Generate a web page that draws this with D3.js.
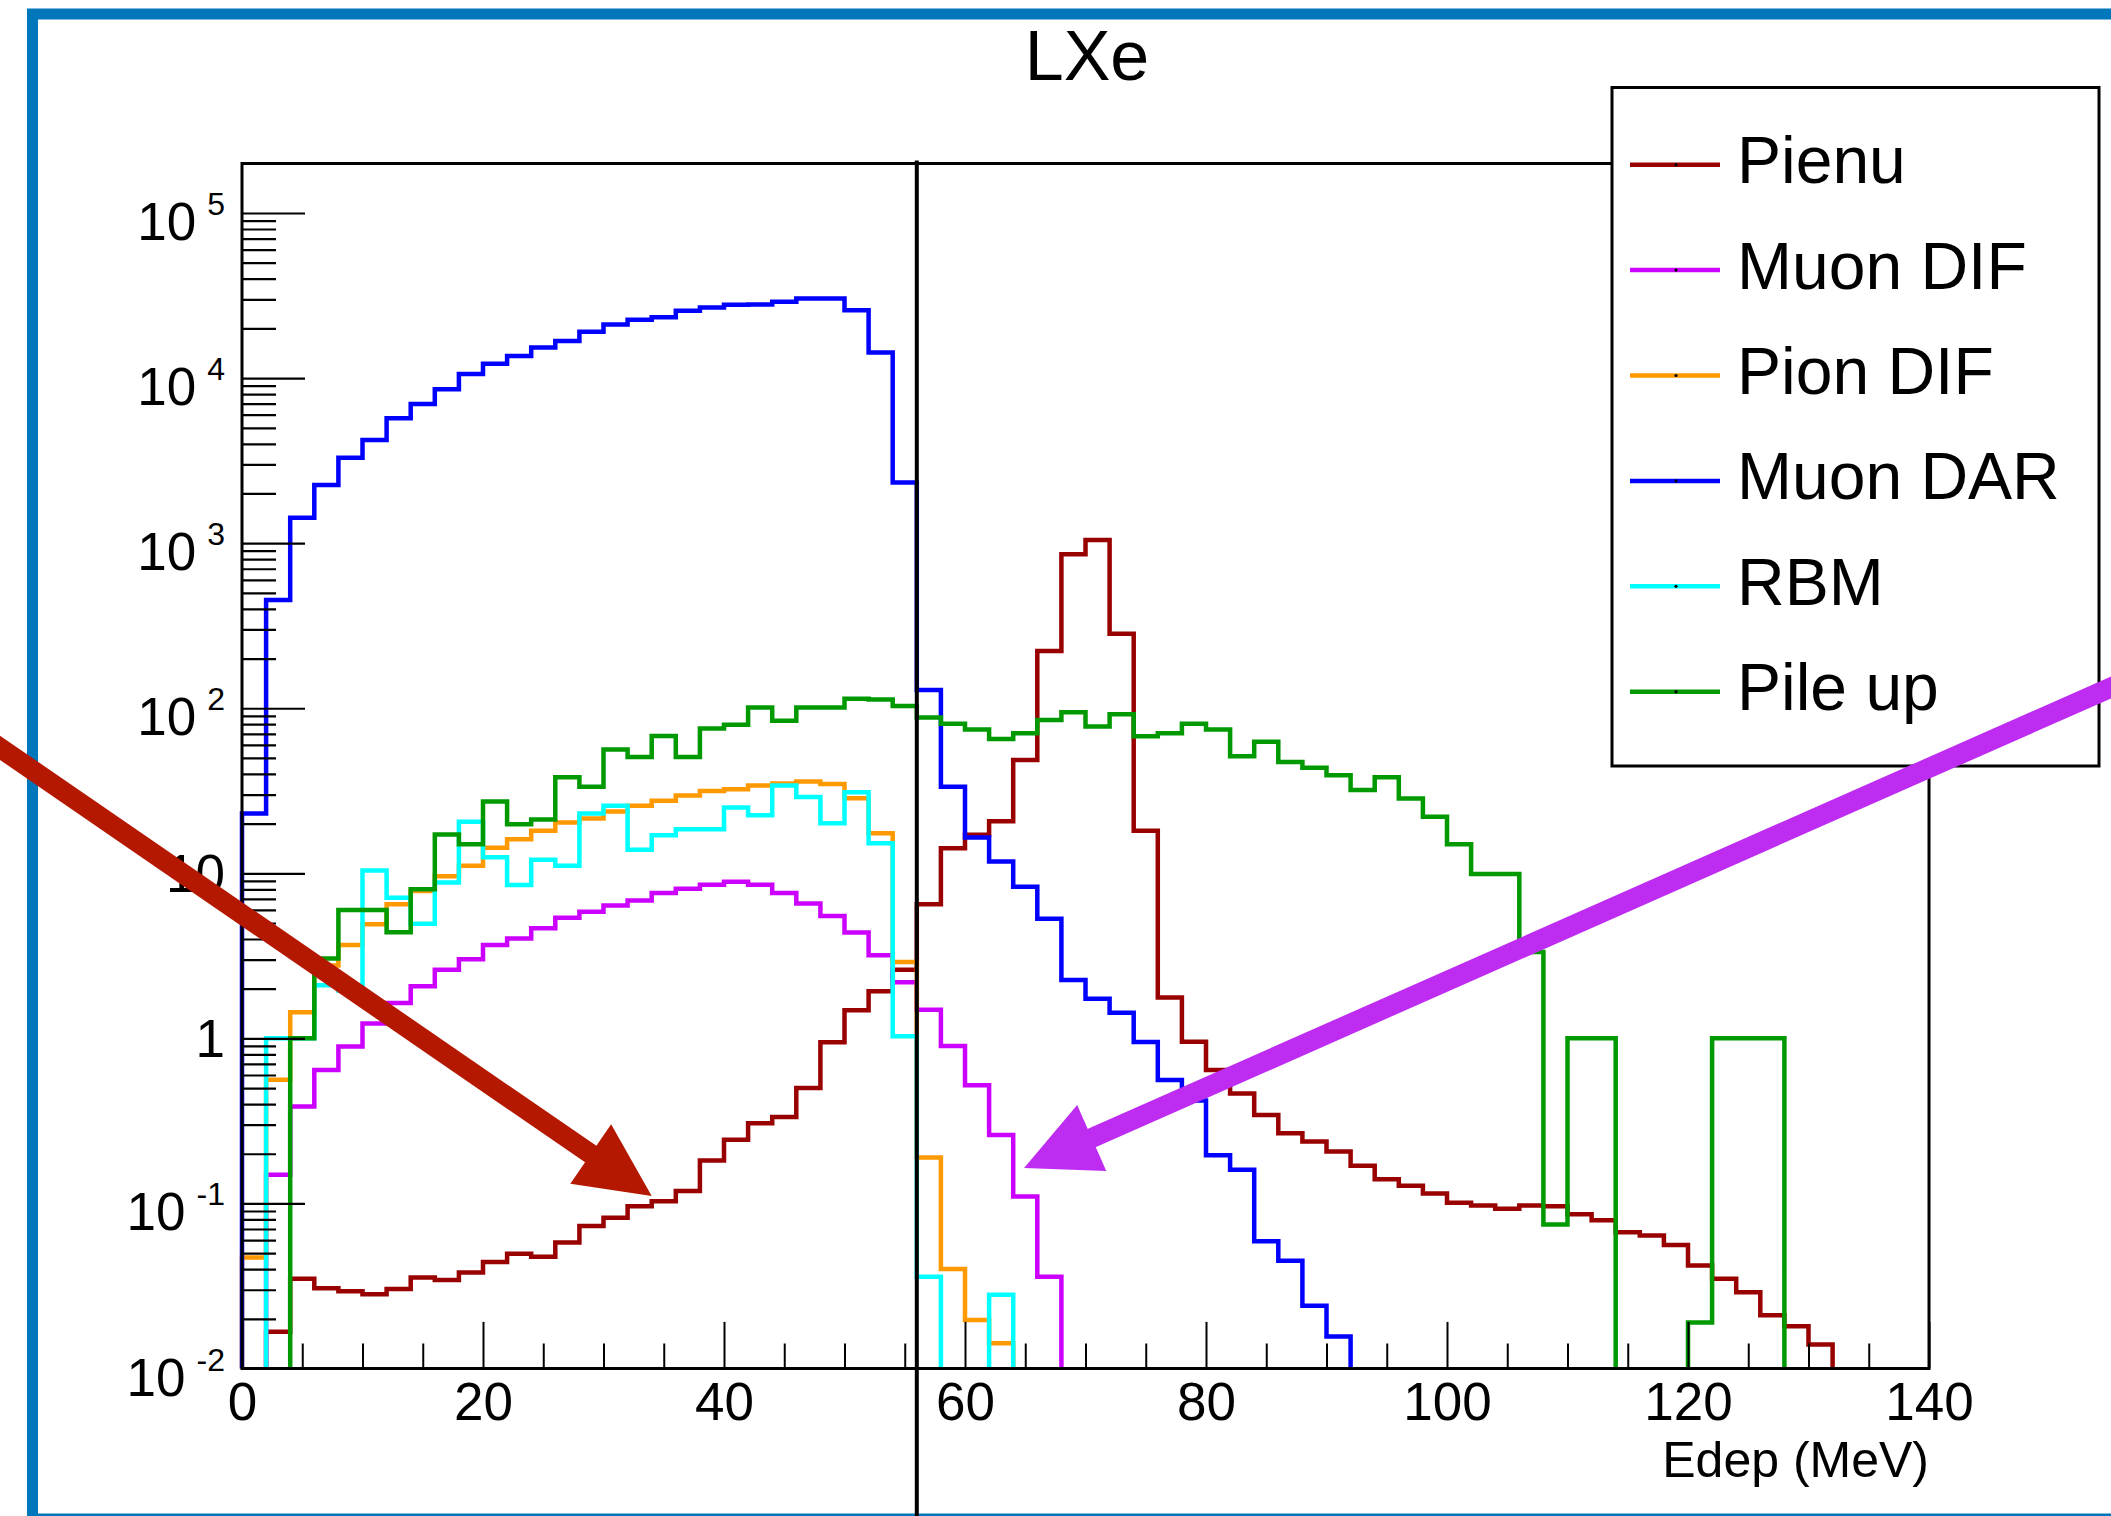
<!DOCTYPE html>
<html>
<head>
<meta charset="utf-8">
<script src="https://cdn.jsdelivr.net/npm/d3@7"></script>
<style>
  body { margin: 0; background: #fff; }
  svg { display: block; }
  text { font-family: "Liberation Sans", Arial, Helvetica, sans-serif; }
</style>
</head>
<body>
<div id="vis-container"></div>
<script>
/* LXe - Edep histograms, log y */

// 70 bins of 2 MeV, 0..140 MeV
const binWidth = 2;

const seriesNames = ["Pienu", "Muon DIF", "Pion DIF", "Muon DAR", "RBM", "Pile up"];
const seriesColors = ["#990000", "#cc00ff", "#ff9900", "#0000ff", "#00ffff", "#009900"];

const pienu = [0, 0.0167, 0.035, 0.0306, 0.0294, 0.0282, 0.0303, 0.0356, 0.0344, 0.0382,
  0.0441, 0.0496, 0.0475, 0.058, 0.073, 0.082, 0.096, 0.103, 0.119, 0.182,
  0.243, 0.306, 0.334, 0.501, 0.946, 1.48, 1.93, 2.6, 6.5, 14.2,
  17.1, 20.7, 48.5, 222, 857, 1044, 283, 18.1, 1.77, 0.955,
  0.643, 0.464, 0.343, 0.266, 0.237, 0.206, 0.169, 0.14, 0.128, 0.115,
  0.101, 0.097, 0.093, 0.097, 0.096, 0.086, 0.079, 0.067, 0.064, 0.056,
  0.042, 0.035, 0.029, 0.021, 0.018, 0.014, 0, 0, 0, 0];

const muonDIF = [0, 0.149, 0.386, 0.643, 0.893, 1.23, 1.64, 2.07, 2.6, 3.01,
  3.68, 4.02, 4.64, 5.37, 5.85, 6.38, 6.84, 7.59, 8.05, 8.53,
  8.88, 8.53, 7.59, 6.57, 5.52, 4.38, 3.19, 2.19, 1.49, 0.9,
  0.52, 0.26, 0.11, 0.036, 0, 0, 0, 0, 0, 0,
  0, 0, 0, 0, 0, 0, 0, 0, 0, 0,
  0, 0, 0, 0, 0, 0, 0, 0, 0, 0,
  0, 0, 0, 0, 0, 0, 0, 0, 0, 0];

const pionDIF = [0.047, 0.562, 1.44, 2.76, 3.68, 4.92, 6.5, 7.8, 9.6, 11.1,
  14.3, 16.1, 18.1, 20.3, 21.5, 23.7, 25.7, 27.5, 29.6, 31.5,
  32.3, 34, 35, 36, 34.8, 28.5, 17.5, 2.9, 0.19, 0.04,
  0.0197, 0.0142, 0, 0, 0, 0, 0, 0, 0, 0,
  0, 0, 0, 0, 0, 0, 0, 0, 0, 0,
  0, 0, 0, 0, 0, 0, 0, 0, 0, 0,
  0, 0, 0, 0, 0, 0, 0, 0, 0, 0];

const muonDAR = [23, 452, 1425, 2250, 3290, 4220, 5710, 6970, 8550, 10600,
  12200, 13600, 15300, 16800, 19100, 21100, 22600, 23400, 25600, 26800,
  27800, 27900, 29000, 30300, 30300, 25800, 14300, 2330, 129, 33.5,
  16.5, 11.8, 8.3, 5.3, 2.26, 1.74, 1.43, 0.95, 0.56, 0.42,
  0.196, 0.16, 0.059, 0.045, 0.024, 0.0156, 0, 0, 0, 0,
  0, 0, 0, 0, 0, 0, 0, 0, 0, 0,
  0, 0, 0, 0, 0, 0, 0, 0, 0, 0];

const rbm = [0, 1.0, 1.0, 2.1, 1.95, 10.4, 7.1, 4.95, 8.8, 20.5,
  12.5, 8.5, 12.1, 11.1, 23, 25.7, 13.9, 17, 18.5, 18.5,
  25, 22.5, 34, 29, 20.1, 31, 15.2, 1.03, 0.036, 0,
  0, 0.028, 0, 0, 0, 0, 0, 0, 0, 0,
  0, 0, 0, 0, 0, 0, 0, 0, 0, 0,
  0, 0, 0, 0, 0, 0, 0, 0, 0, 0,
  0, 0, 0, 0, 0, 0, 0, 0, 0, 0];

const pileUp = [0, 0, 1.0, 3.05, 6.0, 6.0, 4.4, 8.0, 17.2, 15.0,
  27.2, 19.8, 21.2, 38.2, 33.5, 56.3, 50.6, 67.8, 50.6, 75.4,
  79.5, 101, 84, 101, 101, 114, 113, 103, 88, 80.5,
  74.3, 65.1, 70.5, 85, 94.6, 77.6, 92, 67.6, 70.5, 80.5,
  74.3, 51.2, 62.7, 47.2, 43.6, 39.2, 32, 38.2, 28.4, 22,
  15, 9.9, 9.9, 3.33, 0.0746, 1.0, 1.0, 0, 0, 0,
  0.019, 1.0, 1.0, 1.0, 0, 0, 0, 0, 0, 0];

const seriesValues = [pienu, muonDIF, pionDIF, muonDAR, rbm, pileUp];

const xTicks = [0, 20, 40, 60, 80, 100, 120, 140];
const yTicks = [1e-2, 1e-1, 1, 10, 1e2, 1e3, 1e4, 1e5];
const yTickBase = ["10", "10", "1", "10", "10", "10", "10", "10"];
const yTickExp = ["-2", "-1", "", "", "2", "3", "4", "5"];

const cutEnergy = 56;   // MeV, vertical line

// hand-drawn annotation arrows, in data units [MeV, counts]
const arrowFrom = [[-21, 64], [156.3, 146]];
const arrowTo = [[34, 0.111], [64.9, 0.164]];
const arrowColors = ["#b51800", "#bd2cf0"];


const width = 2111, height = 1516;
const pLeft = 242, pRight = 1929, pTop = 163.5, pBottom = 1368.5;

const x = d3.scaleLinear().domain([0, 140]).range([pLeft, pRight]);
const y = d3.scaleLog().domain([1e-2, Math.pow(10, 5.3)]).range([pBottom, pTop]);

const svg = d3.select("#vis-container")
  .append("svg")
  .attr("width", width)
  .attr("height", height);

svg.append("rect").attr("width", width).attr("height", height).attr("fill", "#fff");

// blue outer border (picture is cut on the right)
svg.append("rect")
  .attr("x", 32.5).attr("y", 14)
  .attr("width", 2300).attr("height", 1505)
  .attr("fill", "none")
  .attr("stroke", "#0077bb")
  .attr("stroke-width", 11);

// title
svg.append("text")
  .attr("x", 1087).attr("y", 80)
  .attr("text-anchor", "middle")
  .attr("font-size", 70)
  .text("LXe");

svg.append("clipPath").attr("id", "plotclip")
  .append("rect")
  .attr("x", pLeft - 3).attr("y", pTop)
  .attr("width", pRight - pLeft + 6).attr("height", pBottom - pTop);

// histograms
const yv = v => v > 0 ? y(Math.max(v, 1e-2)) : pBottom + 10;

const line = d3.line()
  .x(d => x(d[0]))
  .y(d => d[1])
  .curve(d3.curveStepAfter);

const hist = svg.append("g").attr("clip-path", "url(#plotclip)");

seriesValues.forEach((vals, k) => {
  let pts = [[0, pBottom + 10]];
  vals.forEach((v, i) => pts.push([i * binWidth, yv(v)]));
  pts.push([vals.length * binWidth, yv(vals[vals.length - 1])]);
  pts.push([vals.length * binWidth, pBottom + 10]);

  hist.append("path")
    .datum(pts)
    .attr("fill", "none")
    .attr("stroke", seriesColors[k])
    .attr("stroke-width", 4.5)
    .attr("stroke-linejoin", "miter")
    .attr("d", line);
});

// axes (ticks inside the frame)
const xMinor = d3.range(0, 141, 5).filter(v => v % 20 != 0);
let yMinor = [];
for (let k = -2; k < 5; k++) {
  for (let m = 2; m < 10; m++) yMinor.push(m * Math.pow(10, k));
}

const xAxis = svg.append("g")
  .attr("transform", `translate(0,${pBottom})`)
  .call(d3.axisBottom(x).tickValues(xTicks).tickSize(-46.6).tickPadding(14));
xAxis.attr("font-size", 53).attr("font-family", null);
xAxis.select(".domain").remove();
xAxis.selectAll("line").attr("stroke-width", 2);

const xAxisMinor = svg.append("g")
  .attr("transform", `translate(0,${pBottom})`)
  .call(d3.axisBottom(x).tickValues(xMinor).tickSize(-25).tickFormat(""));
xAxisMinor.select(".domain").remove();
xAxisMinor.selectAll("line").attr("stroke-width", 2);

const yAxis = svg.append("g")
  .attr("transform", `translate(${pLeft},0)`)
  .call(d3.axisLeft(y).tickValues(yTicks).tickSize(-63).tickFormat(""));
yAxis.select(".domain").remove();
yAxis.selectAll("line").attr("stroke-width", 2.2);

const yAxisMinor = svg.append("g")
  .attr("transform", `translate(${pLeft},0)`)
  .call(d3.axisLeft(y).tickValues(yMinor).tickSize(-34).tickFormat(""));
yAxisMinor.select(".domain").remove();
yAxisMinor.selectAll("line").attr("stroke-width", 2.2);

// y labels like ROOT: 10 with raised exponent
yTicks.forEach((v, i) => {
  const t = svg.append("text")
    .attr("x", 225)
    .attr("text-anchor", "end")
    .attr("font-size", 53);
  if (yTickExp[i] == "") {
    t.attr("y", y(v) + 19).text(yTickBase[i]);
  } else {
    t.attr("y", y(v) + 27);
    t.append("tspan").text(yTickBase[i]);
    t.append("tspan")
      .attr("dx", 11).attr("dy", -25)
      .attr("font-size", 32)
      .text(yTickExp[i]);
  }
});

svg.append("text")
  .attr("x", pRight).attr("y", 1477)
  .attr("text-anchor", "end")
  .attr("font-size", 50)
  .text("Edep (MeV)");

// frame
svg.append("rect")
  .attr("x", pLeft).attr("y", pTop)
  .attr("width", pRight - pLeft).attr("height", pBottom - pTop)
  .attr("fill", "none")
  .attr("stroke", "#000")
  .attr("stroke-width", 3);

// cut line
svg.append("line")
  .attr("x1", x(cutEnergy)).attr("x2", x(cutEnergy))
  .attr("y1", pTop - 3).attr("y2", height)
  .attr("stroke", "#000")
  .attr("stroke-width", 4);

// legend
const legX = 1612, legY = 87.5, legW = 487, legH = 678.5, legStep = 105.4;
svg.append("rect")
  .attr("x", legX).attr("y", legY)
  .attr("width", legW).attr("height", legH)
  .attr("fill", "#fff")
  .attr("stroke", "#000")
  .attr("stroke-width", 3);

seriesNames.forEach((name, i) => {
  const ly = legY + 77.2 + i * legStep;
  svg.append("line")
    .attr("x1", legX + 18).attr("x2", legX + 108)
    .attr("y1", ly).attr("y2", ly)
    .attr("stroke", seriesColors[i])
    .attr("stroke-width", 4.5);
  svg.append("circle")
    .attr("cx", legX + 64).attr("cy", ly).attr("r", 1.6)
    .attr("fill", "#000");
  svg.append("text")
    .attr("x", legX + 125).attr("y", ly + 18.5)
    .attr("font-size", 66)
    .text(name);
});

// annotation arrows on top
arrowFrom.forEach((f, i) => {
  const x1 = x(f[0]), y1 = y(f[1]);
  const x2 = x(arrowTo[i][0]), y2 = y(arrowTo[i][1]);
  const len = Math.hypot(x2 - x1, y2 - y1);
  const ux = (x2 - x1) / len, uy = (y2 - y1) / len;
  const headLen = 74, headHalf = 36;
  const bx = x2 - ux * headLen, by = y2 - uy * headLen;

  svg.append("line")
    .attr("x1", x1).attr("y1", y1)
    .attr("x2", bx + ux * 4).attr("y2", by + uy * 4)
    .attr("stroke", arrowColors[i])
    .attr("stroke-width", 20);

  svg.append("path")
    .attr("d", `M${x2},${y2}L${bx - uy * headHalf},${by + ux * headHalf}L${bx + uy * headHalf},${by - ux * headHalf}Z`)
    .attr("fill", arrowColors[i]);
});
</script>
</body>
</html>
